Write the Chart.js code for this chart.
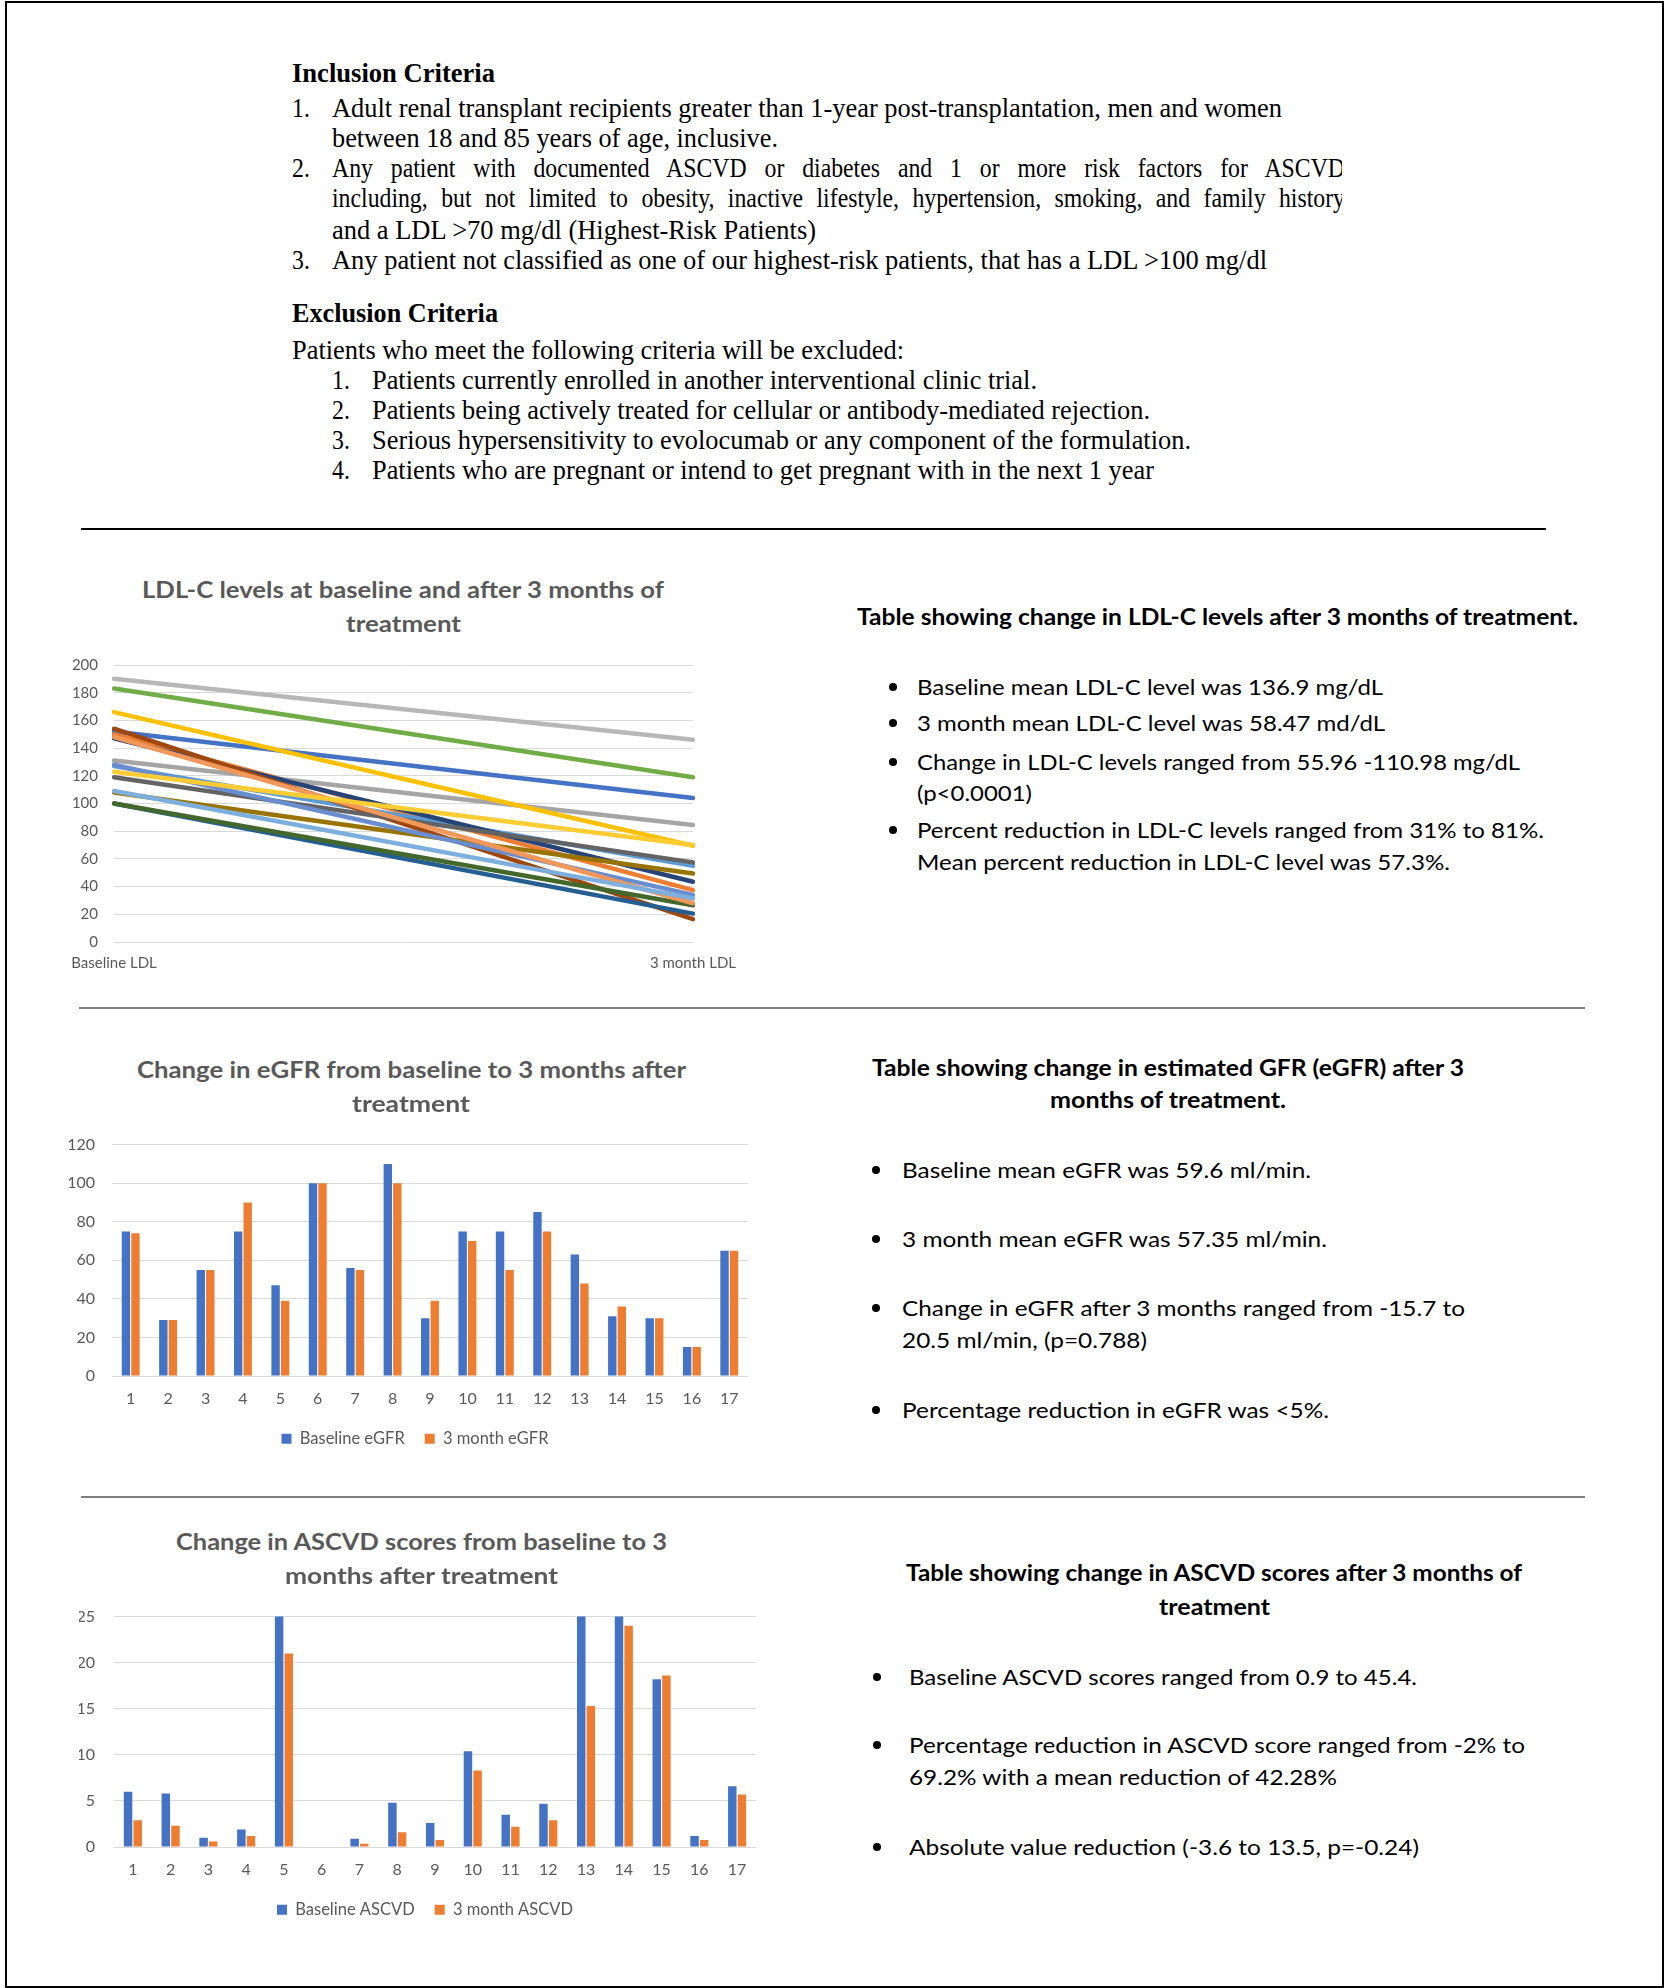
<!DOCTYPE html>
<html>
<head>
<meta charset="utf-8">
<script src="https://cdn.jsdelivr.net/npm/chart.js@4.4.1/dist/chart.umd.min.js"></script>
<style>
  html, body { margin: 0; padding: 0; background: #fff; }
  body { width: 1666px; height: 1988px; position: relative; overflow: hidden; }
  .frame { position: absolute; left: 5px; top: 1px; width: 1659px; height: 1987px; border: 2px solid #000; box-sizing: border-box; }
  .t { position: absolute; white-space: nowrap; transform-origin: 0 50%; }
  .serif { font-family: "Liberation Serif", "Times New Roman", serif; font-size: 27px; color: #000; }
  .sans { font-family: Lato, sans-serif; font-size: 22px; color: #000; }
  .title { font-family: Lato, sans-serif; font-size: 22px; font-weight: 700; color: #595959; }
  .b { font-weight: 700; }
  .dot { position: absolute; width: 8px; height: 8px; border-radius: 50%; background: #000; }
  .rule { position: absolute; }
  .clip { position: absolute; overflow: hidden; }
  canvas { position: absolute; }
</style>
</head>
<body>
<div class="frame"></div>

<div class="rule" style="left:81px; top:528px; width:1465px; height:2px; background:#000;"></div>
<div class="rule" style="left:79px; top:1007px; width:1506px; height:2px; background:#7f7f7f;"></div>
<div class="rule" style="left:81px; top:1496px; width:1504px; height:2px; background:#7f7f7f;"></div>

<canvas id="ldlChart" width="720" height="340" style="left:40px; top:640px;"></canvas>
<canvas id="egfrChart" width="740" height="340" style="left:40px; top:1118px;"></canvas>
<div class="clip" style="left:79px; top:1588px; width:700px; height:340px;">
  <canvas id="ascvdChart" width="740" height="340" style="left:-39px; top:0;"></canvas>
</div>

<script>
// --- Data ---
const ldlCategories = ['Baseline LDL', '3 month LDL'];
const ldlBaseline = [152, 150, 131, 166, 127, 183, 147, 154, 119, 108, 100, 100, 128, 148, 190, 123, 109];
const ldlMonth3   = [104, 37.5, 84.5, 69.5, 55, 119, 43.5, 16.5, 57.5, 49.5, 20.5, 26.5, 34, 28, 146, 70, 31.5];
const ldlColors = ['#4472C4', '#ED7D31', '#A5A5A5', '#FFC000', '#5B9BD5', '#70AD47', '#264478', '#9E480E',
                   '#636363', '#997300', '#255E91', '#43682B', '#698ED0', '#F1975A', '#B7B7B7', '#FFCD33', '#7CAFDD'];
const ldlTickMax = 200, ldlTickStep = 20;

const patients = ['1', '2', '3', '4', '5', '6', '7', '8', '9', '10', '11', '12', '13', '14', '15', '16', '17'];

const egfrBaseline = [75, 29, 55, 75, 47, 100, 56, 110, 30, 75, 75, 85, 63, 31, 30, 15, 65];
const egfrMonth3   = [74, 29, 55, 90, 39, 100, 55, 100, 39, 70, 55, 75, 48, 36, 30, 15, 65];
const egfrTickMax = 120, egfrTickStep = 20;

// values above 25 run off the top of the axis in the original
const ascvdBaseline = [6.0, 5.8, 1.0, 1.9, 30.1, null, 0.9, 4.8, 2.6, 10.4, 3.5, 4.7, 28.8, 45.4, 18.2, 1.2, 6.6];
const ascvdMonth3   = [2.9, 2.3, 0.6, 1.2, 21.0, null, 0.35, 1.6, 0.75, 8.3, 2.2, 2.9, 15.3, 24.0, 18.6, 0.75, 5.7];
const ascvdTickMax = 25, ascvdTickStep = 5;

// --- Text blocks ---
// x/y = left edge and vertical centre, r = right edge (used to squeeze the line), cx = centre
const textLines = [
  { cls: 'serif b', text: 'Inclusion Criteria', x: 292, y: 73, r: 495 },
  { cls: 'serif', text: '1.', x: 292, y: 108, s: 0.88 },
  { cls: 'serif', text: 'Adult renal transplant recipients greater than 1-year post-transplantation, men and women', x: 332, y: 108, r: 1282 },
  { cls: 'serif', text: 'between 18 and 85 years of age, inclusive.', x: 332, y: 138, r: 778 },
  { cls: 'serif', text: '2.', x: 292, y: 168, s: 0.88 },
  { cls: 'serif', text: 'and a LDL >70 mg/dl (Highest-Risk Patients)', x: 332, y: 230, r: 816 },
  { cls: 'serif', text: '3.', x: 292, y: 260, s: 0.88 },
  { cls: 'serif', text: 'Any patient not classified as one of our highest-risk patients, that has a LDL >100 mg/dl', x: 332, y: 260, r: 1267 },
  { cls: 'serif b', text: 'Exclusion Criteria', x: 292, y: 313, r: 498 },
  { cls: 'serif', text: 'Patients who meet the following criteria will be excluded:', x: 292, y: 350, r: 904 },
  { cls: 'serif', text: '1.', x: 332, y: 380, s: 0.88 },
  { cls: 'serif', text: 'Patients currently enrolled in another interventional clinic trial.', x: 372, y: 380, r: 1037 },
  { cls: 'serif', text: '2.', x: 332, y: 410, s: 0.88 },
  { cls: 'serif', text: 'Patients being actively treated for cellular or antibody-mediated rejection.', x: 372, y: 410, r: 1150 },
  { cls: 'serif', text: '3.', x: 332, y: 440, s: 0.88 },
  { cls: 'serif', text: 'Serious hypersensitivity to evolocumab or any component of the formulation.', x: 372, y: 440, r: 1191 },
  { cls: 'serif', text: '4.', x: 332, y: 470, s: 0.88 },
  { cls: 'serif', text: 'Patients who are pregnant or intend to get pregnant with in the next 1 year', x: 372, y: 470, r: 1154 },

  { cls: 'title', text: 'LDL-C levels at baseline and after 3 months of', cx: 403, y: 590, w: 522 },
  { cls: 'title', text: 'treatment', cx: 403, y: 624, w: 115 },
  { cls: 'title', text: 'Change in eGFR from baseline to 3 months after', cx: 411, y: 1070, w: 549 },
  { cls: 'title', text: 'treatment', cx: 411, y: 1104, w: 118 },
  { cls: 'title', text: 'Change in ASCVD scores from baseline to 3', cx: 421, y: 1542, w: 491 },
  { cls: 'title', text: 'months after treatment', cx: 421, y: 1576, w: 273 },

  { cls: 'sans b', text: 'Table showing change in LDL-C levels after 3 months of treatment.', x: 857, y: 617, r: 1578 },
  { cls: 'sans', text: 'Baseline mean LDL-C level was 136.9 mg/dL', x: 917, y: 687, r: 1383, dot: 889 },
  { cls: 'sans', text: '3 month mean LDL-C level was 58.47 md/dL', x: 917, y: 723, r: 1385, dot: 889 },
  { cls: 'sans', text: 'Change in LDL-C levels ranged from 55.96 -110.98 mg/dL', x: 917, y: 762, r: 1520, dot: 889 },
  { cls: 'sans', text: '(p<0.0001)', x: 917, y: 793, r: 1032 },
  { cls: 'sans', text: 'Percent reduction in LDL-C levels ranged from 31% to 81%.', x: 917, y: 830, r: 1544, dot: 889 },
  { cls: 'sans', text: 'Mean percent reduction in LDL-C level was 57.3%.', x: 917, y: 862, r: 1450 },

  { cls: 'sans b', text: 'Table showing change in estimated GFR (eGFR) after 3', cx: 1168, y: 1068, w: 592 },
  { cls: 'sans b', text: 'months of treatment.', cx: 1168, y: 1100, w: 236 },
  { cls: 'sans', text: 'Baseline mean eGFR was 59.6 ml/min.', x: 902, y: 1170, r: 1311, dot: 872 },
  { cls: 'sans', text: '3 month mean eGFR was 57.35 ml/min.', x: 902, y: 1239, r: 1327, dot: 872 },
  { cls: 'sans', text: 'Change in eGFR after 3 months ranged from -15.7 to', x: 902, y: 1308, r: 1465, dot: 872 },
  { cls: 'sans', text: '20.5 ml/min, (p=0.788)', x: 902, y: 1340, r: 1147 },
  { cls: 'sans', text: 'Percentage reduction in eGFR was <5%.', x: 902, y: 1410, r: 1329, dot: 872 },

  { cls: 'sans b', text: 'Table showing change in ASCVD scores after 3 months of', cx: 1214, y: 1573, w: 616 },
  { cls: 'sans b', text: 'treatment', cx: 1214, y: 1607, w: 111 },
  { cls: 'sans', text: 'Baseline ASCVD scores ranged from 0.9 to 45.4.', x: 909, y: 1677, r: 1417, dot: 873 },
  { cls: 'sans', text: 'Percentage reduction in ASCVD score ranged from -2% to', x: 909, y: 1745, r: 1525, dot: 873 },
  { cls: 'sans', text: '69.2% with a mean reduction of 42.28%', x: 909, y: 1777, r: 1337 },
  { cls: 'sans', text: 'Absolute value reduction (-3.6 to 13.5, p=-0.24)', x: 909, y: 1847, r: 1419, dot: 873 }
];

// justified lines of inclusion item 2, cut off at the right edge like the source
const justifiedLines = [
  { text: 'Any patient with documented ASCVD or diabetes and 1 or more risk factors for ASCVD', y: 168 },
  { text: 'including, but not limited to obesity, inactive lifestyle, hypertension, smoking, and family history', y: 198 }
];

function placeText(o) {
  const lh = 32;
  const el = document.createElement('div');
  el.className = 't ' + o.cls;
  el.textContent = o.text;
  el.style.lineHeight = lh + 'px';
  el.style.top = (o.y - lh / 2) + 'px';
  el.style.left = '0px';
  document.body.appendChild(el);
  const natural = el.getBoundingClientRect().width;
  let s = o.s || 1;
  if (o.r !== undefined) s = (o.r - o.x) / natural;
  if (o.w !== undefined) s = o.w / natural;
  const left = o.cx !== undefined ? o.cx - natural * s / 2 : o.x;
  el.style.left = left + 'px';
  el.style.transform = `scaleX(${s})`;
  if (o.dot !== undefined) {
    const d = document.createElement('div');
    d.className = 'dot';
    d.style.left = o.dot + 'px';
    d.style.top = (o.y - 4) + 'px';
    document.body.appendChild(d);
  }
}

function placeJustified(o) {
  const s = 0.88, lh = 32;
  const box = document.createElement('div');
  box.className = 'clip';
  box.style.left = '332px';
  box.style.top = (o.y - lh / 2) + 'px';
  box.style.width = '1010px';
  box.style.height = lh + 'px';
  const el = document.createElement('div');
  el.className = 'serif';
  el.textContent = o.text;
  el.style.cssText += `position:absolute; left:0; top:0; line-height:${lh}px; width:${1013 / s}px;` +
    `text-align:justify; text-align-last:justify; transform:scaleX(${s}); transform-origin:0 50%; white-space:normal;`;
  box.appendChild(el);
  document.body.appendChild(box);
}

textLines.forEach(placeText);
justifiedLines.forEach(placeJustified);

// --- Charts ---
Chart.defaults.font.family = 'Lato, sans-serif';
Chart.defaults.color = '#595959';
const gridColor = '#D9D9D9';

new Chart(document.getElementById('ldlChart'), {
  type: 'line',
  data: {
    labels: ldlCategories,
    datasets: ldlBaseline.map((b, i) => ({
      label: 'Patient ' + (i + 1),
      data: [b, ldlMonth3[i]],
      borderColor: ldlColors[i],
      backgroundColor: ldlColors[i],
      borderWidth: 4.5,
      borderCapStyle: 'round',
      pointRadius: 0,
      tension: 0,
      order: ldlBaseline.length - i
    }))
  },
  options: {
    responsive: false,
    animation: false,
    layout: { padding: { left: 0, right: 67, top: 25, bottom: 0 } },
    plugins: { legend: { display: false }, tooltip: { enabled: false } },
    scales: {
      x: {
        offset: false,
        grid: { display: false, drawTicks: false },
        border: { display: false },
        ticks: { font: { size: 15 }, padding: 12, maxRotation: 0, autoSkip: false },
        afterFit: s => { s.height = 38; }
      },
      y: {
        min: 0, max: ldlTickMax,
        grid: { color: gridColor, drawTicks: false },
        border: { display: false },
        ticks: { stepSize: ldlTickStep, font: { size: 15 }, padding: 16 },
        afterFit: s => { s.width = 74; }
      }
    }
  }
});

// slide the bottom legend sideways so it sits where the original put it
const legendShift = {
  id: 'legendShift',
  afterLayout(chart, args, opts) {
    if (chart.legend) {
      chart.legend.left += opts.dx;
      chart.legend.right += opts.dx;
    }
  }
};

function barChart(id, base, month3, names, yMax, yStep, geo) {
  return new Chart(document.getElementById(id), {
    type: 'bar',
    data: {
      labels: patients,
      datasets: [
        { label: names[0], data: base, backgroundColor: '#4472C4', categoryPercentage: 0.51, barPercentage: 0.88 },
        { label: names[1], data: month3, backgroundColor: '#ED7D31', categoryPercentage: 0.51, barPercentage: 0.88 }
      ]
    },
    plugins: [legendShift],
    options: {
      responsive: false,
      animation: false,
      layout: { padding: { left: 0, right: geo.padRight, top: 0, bottom: geo.padBottom } },
      plugins: {
        tooltip: { enabled: false },
        legendShift: { dx: geo.legendDx },
        legend: {
          position: 'bottom',
          labels: { boxWidth: 10, boxHeight: 10, padding: 20, font: { size: 16.5 }, color: '#595959' }
        }
      },
      scales: {
        x: {
          grid: { display: false, drawTicks: false },
          border: { display: false },
          ticks: { font: { size: 16 }, padding: 13, maxRotation: 0, autoSkip: false },
          afterFit: s => { s.height = 34.5; }
        },
        y: {
          min: 0, max: yMax,
          grid: { color: gridColor, drawTicks: false },
          border: { display: false },
          ticks: { stepSize: yStep, font: { size: 16 }, padding: geo.tickPad },
          afterFit: s => { s.width = geo.axisWidth; }
        }
      }
    }
  });
}

barChart('egfrChart', egfrBaseline, egfrMonth3, ['Baseline eGFR', '3 month eGFR'], egfrTickMax, egfrTickStep,
  { padRight: 32, padBottom: 1, axisWidth: 72, tickPad: 17, legendDx: 21 });
barChart('ascvdChart', ascvdBaseline, ascvdMonth3, ['Baseline ASCVD', '3 month ASCVD'], ascvdTickMax, ascvdTickStep,
  { padRight: 24, padBottom: 0, axisWidth: 74, tickPad: 19, legendDx: 27 });
</script>
</body>
</html>
